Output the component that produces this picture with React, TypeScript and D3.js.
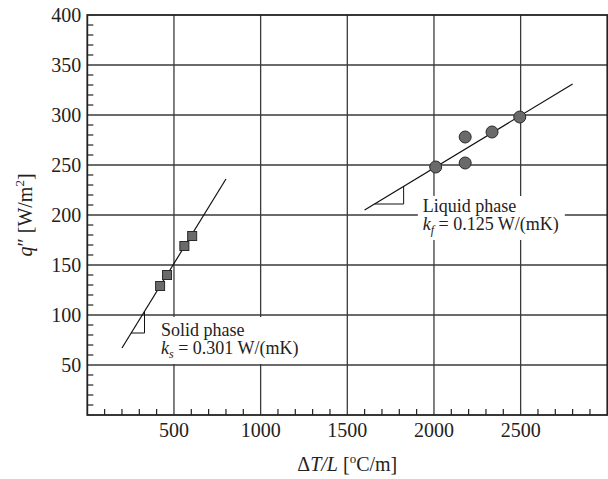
import React from "react";
import * as d3 from "d3";

const xTicks = [500, 1000, 1500, 2000, 2500];
const yTicks = [50, 100, 150, 200, 250, 300, 350, 400];

const solidX = [420, 460, 560, 605];
const solidY = [129, 140, 169, 179];
const liquidX = [2010, 2180, 2180, 2335, 2495];
const liquidY = [248, 278, 252, 283, 298];

const solidFitX = [200, 800];
const solidFitY = [67, 236];
const liquidFitX = [1600, 2800];
const liquidFitY = [205, 331];

// slope triangles: x where horizontal leg meets the line, x of corner, q of horizontal leg
const solidTri = { x0: 253, x1: 330, q: 82 };
const liquidTri = { x0: 1657, x1: 1825, q: 211 };

const W = 608;
const H = 479;
const FONT = "'Liberation Serif', 'Times New Roman', serif";

export default function App() {
  const x = d3.scaleLinear().domain([0, 3000]).range([87.3, 607.3]);
  const y = d3.scaleLinear().domain([0, 400]).range([415, 15]);
  const gridColor = "#3a3a3a";

  const fitAt = (fx: number[], fy: number[], v: number) =>
    fy[0] + ((v - fx[0]) * (fy[1] - fy[0])) / (fx[1] - fx[0]);

  const line = d3
    .line<[number, number]>()
    .x((d) => x(d[0]))
    .y((d) => y(d[1]));

  const minorX = d3.range(100, 3000, 100).filter((v) => v % 500 !== 0);
  const minorY = d3.range(10, 400, 10).filter((v) => v % 50 !== 0);

  const tri = (t: { x0: number; x1: number; q: number }, fx: number[], fy: number[]) =>
    line([
      [t.x0, t.q],
      [t.x1, t.q],
      [t.x1, fitAt(fx, fy, t.x1)],
    ]);

  return (
    <svg
      width={W}
      height={H}
      style={{ position: "absolute", left: 0, top: 0, background: "#fff" }}
      fontFamily={FONT}
    >
      {/* grid */}
      {xTicks.map((v) => (
        <line key={"gx" + v} x1={x(v)} x2={x(v)} y1={y(0)} y2={y(400)} stroke={gridColor} strokeWidth={1.3} />
      ))}
      {yTicks.filter((v) => v < 400).map((v) => (
        <line key={"gy" + v} x1={x(0)} x2={x(3000)} y1={y(v)} y2={y(v)} stroke={gridColor} strokeWidth={1.3} />
      ))}

      {/* label boxes */}
      <rect x={x(390)} y={y(98)} width={x(1260) - x(390)} height={y(51) - y(98)} fill="#fff" />
      <rect x={x(1907)} y={y(219)} width={x(2755) - x(1907)} height={y(175) - y(219)} fill="#fff" />

      {/* fit lines */}
      <path d={line([[solidFitX[0], solidFitY[0]], [solidFitX[1], solidFitY[1]]]) || ""} stroke="#111" strokeWidth={1.2} fill="none" />
      <path d={line([[liquidFitX[0], liquidFitY[0]], [liquidFitX[1], liquidFitY[1]]]) || ""} stroke="#111" strokeWidth={1.2} fill="none" />
      <path d={tri(solidTri, solidFitX, solidFitY) || ""} stroke="#111" strokeWidth={1} fill="none" />
      <path d={tri(liquidTri, liquidFitX, liquidFitY) || ""} stroke="#111" strokeWidth={1} fill="none" />

      {/* markers */}
      {solidX.map((v, i) => (
        <rect key={"s" + i} x={x(v) - 4.5} y={y(solidY[i]) - 4.5} width={9} height={9} fill="#6a6a6a" stroke="#2a2a2a" strokeWidth={1} />
      ))}
      {liquidX.map((v, i) => (
        <circle key={"l" + i} cx={x(v)} cy={y(liquidY[i])} r={6} fill="#6a6a6a" stroke="#2a2a2a" strokeWidth={1} />
      ))}

      {/* minor ticks */}
      {minorX.map((v) => (
        <line key={"mx" + v} x1={x(v)} x2={x(v)} y1={y(0)} y2={y(0) - 6} stroke="#222" strokeWidth={1.2} />
      ))}
      {minorY.map((v) => (
        <line key={"my" + v} x1={x(0)} x2={x(0) + 6} y1={y(v)} y2={y(v)} stroke="#222" strokeWidth={1.2} />
      ))}

      {/* frame */}
      <rect x={x(0)} y={y(400)} width={x(3000) - x(0)} height={y(0) - y(400)} fill="none" stroke="#222" strokeWidth={1.8} />

      {/* tick labels */}
      {yTicks.map((v) => (
        <text key={"ty" + v} x={x(0) - 6} y={y(v)} dy="0.35em" textAnchor="end" fontSize={20} fill="#222">
          {v}
        </text>
      ))}
      {xTicks.map((v) => (
        <text key={"tx" + v} x={x(v)} y={437} textAnchor="middle" fontSize={20} fill="#222">
          {v}
        </text>
      ))}

      {/* axis titles */}
      <text x={(x(0) + x(3000)) / 2} y={471} textAnchor="middle" fontSize={20} fill="#222">
        <tspan>Δ</tspan>
        <tspan fontStyle="italic">T/L</tspan>
        <tspan> [</tspan>
        <tspan fontSize={13} dy={-8}>o</tspan>
        <tspan dy={8}>C/m]</tspan>
      </text>
      <g transform={`translate(32, ${(y(0) + y(400)) / 2}) rotate(-90)`}>
        <text x={0} y={0} textAnchor="middle" fontSize={20} fill="#222">
          <tspan fontStyle="italic">q</tspan>
          <tspan>″ [W/m</tspan>
          <tspan fontSize={13} dy={-8}>2</tspan>
          <tspan dy={8}>]</tspan>
        </text>
      </g>

      {/* annotations */}
      <text fontSize={18} fill="#222">
        <tspan x={x(425)} y={y(79)}>Solid phase</tspan>
        <tspan x={x(425)} y={y(61)} fontStyle="italic">k</tspan>
        <tspan fontStyle="italic" fontSize={12} dy={4}>s</tspan>
        <tspan dy={-4}> = 0.301 W/(mK)</tspan>
      </text>
      <text fontSize={18} fill="#222">
        <tspan x={x(1935)} y={y(203)}>Liquid phase</tspan>
        <tspan x={x(1935)} y={y(185)} fontStyle="italic">k</tspan>
        <tspan fontStyle="italic" fontSize={12} dy={4}>f</tspan>
        <tspan dy={-4}> = 0.125 W/(mK)</tspan>
      </text>
    </svg>
  );
}
